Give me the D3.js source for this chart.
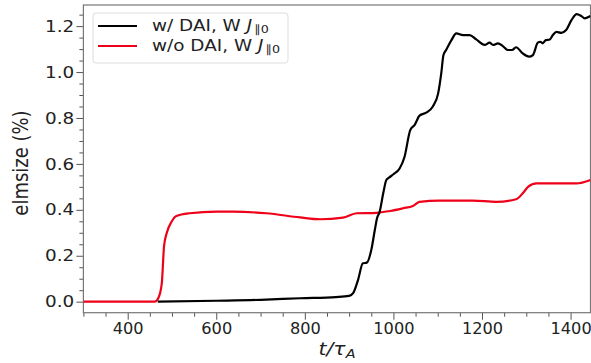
<!DOCTYPE html>
<html>
<head>
<meta charset="utf-8">
<script src="https://cdn.jsdelivr.net/npm/d3@7"></script>
<style>
  body { margin: 0; background: #fff; }
  text { font-family: "DejaVu Sans", sans-serif; fill: #222; }
</style>
</head>
<body>
<script>
// series
const blackT = [468, 600, 700, 790, 870, 900, 909, 920, 931, 940, 950, 958, 963, 969, 977, 984, 990, 1000, 1014, 1025, 1038, 1048, 1059, 1074, 1089, 1101, 1108, 1113, 1119, 1131, 1142, 1157, 1172, 1187, 1206, 1217, 1225, 1236, 1247, 1258, 1268, 1277, 1292, 1306, 1315, 1326, 1332, 1337, 1344, 1353, 1360, 1368, 1379, 1390, 1402, 1414, 1424, 1432, 1445];
const blackV = [0, 0.004, 0.008, 0.015, 0.02, 0.025, 0.037, 0.094, 0.167, 0.17, 0.225, 0.312, 0.363, 0.392, 0.472, 0.53, 0.54, 0.555, 0.58, 0.63, 0.747, 0.77, 0.81, 0.823, 0.85, 0.907, 0.994, 1.074, 1.096, 1.139, 1.168, 1.161, 1.161, 1.142, 1.118, 1.128, 1.118, 1.125, 1.113, 1.096, 1.096, 1.108, 1.081, 1.067, 1.074, 1.128, 1.132, 1.125, 1.139, 1.142, 1.161, 1.175, 1.171, 1.183, 1.226, 1.252, 1.244, 1.234, 1.244];

const redT = [300, 461, 469, 477, 482, 488, 499, 510, 540, 601, 638, 713, 789, 834, 886, 917, 962, 992, 1022, 1044, 1059, 1104, 1179, 1232, 1277, 1292, 1304, 1323, 1413, 1445];
const redV = [0, 0, 0.015, 0.08, 0.24, 0.298, 0.348, 0.373, 0.385, 0.392, 0.392, 0.385, 0.367, 0.359, 0.366, 0.385, 0.387, 0.395, 0.407, 0.417, 0.435, 0.44, 0.44, 0.435, 0.446, 0.472, 0.5, 0.515, 0.515, 0.53];

const xTicks = [400, 600, 800, 1000, 1200, 1400];
const yTicks = [0.0, 0.2, 0.4, 0.6, 0.8, 1.0, 1.2];
const seriesNames = ['w/ DAI, W ', 'w/o DAI, W '];
const seriesColors = ['#000000', '#ee0018'];

// the reference image is a bit wider than tall in its glyphs
const stretch = 1.15;

const svgWidth = 591;
const svgHeight = 363;
const margin = { left: 83.4, right: 0.5, top: 5, bottom: 50.3 };
const width = svgWidth - margin.left - margin.right;
const height = svgHeight - margin.top - margin.bottom;

const svg = d3.select('body').append('svg')
  .attr('width', svgWidth)
  .attr('height', svgHeight);

const g = svg.append('g')
  .attr('transform', `translate(${margin.left}, ${margin.top})`);

const x = d3.scaleLinear().domain([300, 1445]).range([0, width]);
const y = d3.scaleLinear().domain([-0.048, 1.292]).range([height, 0]);

g.append('clipPath').attr('id', 'clip')
  .append('rect').attr('width', width).attr('height', height);

// minor ticks
const xMinor = d3.range(300, 1450, 50).filter((v) => v % 200 !== 0);
const yMinor = d3.range(0, 1.3, 0.05).map((v) => +v.toFixed(2)).filter((v) => Math.round(v * 100) % 20 !== 0);

g.append('g').attr('transform', `translate(0, ${height})`)
  .call(d3.axisBottom(x).tickValues(xMinor).tickSize(4).tickFormat(''))
  .call((s) => s.select('.domain').remove());
g.append('g')
  .call(d3.axisLeft(y).tickValues(yMinor).tickSize(4).tickFormat(''))
  .call((s) => s.select('.domain').remove());

// major ticks
const xAxis = g.append('g').attr('transform', `translate(0, ${height})`)
  .call(d3.axisBottom(x).tickValues(xTicks).tickSize(7).tickPadding(4).tickFormat(d3.format('d')));
const yAxis = g.append('g')
  .call(d3.axisLeft(y).tickValues(yTicks).tickSize(7).tickPadding(1).tickFormat(d3.format('.1f')));

[xAxis, yAxis].forEach((a) => {
  a.select('.domain').remove();
  a.selectAll('text')
    .style('font-size', '16px')
    .attr('fill', '#222')
    .attr('transform', `scale(${stretch}, 1)`);
});
// the last x label sits right at the window edge, keep it inside
xAxis.selectAll('text').style('font-size', '15px').attr('transform', 'scale(1.08, 1)');
g.selectAll('.tick line').attr('stroke', '#555').attr('stroke-width', 1);

// frame
g.append('rect')
  .attr('width', width).attr('height', height)
  .attr('fill', 'none').attr('stroke', '#777').attr('stroke-width', 1.2);

const line = d3.line()
  .x((d) => x(d[0]))
  .y((d) => y(d[1]))
  .curve(d3.curveMonotoneX);

const series = [
  d3.zip(blackT, blackV),
  d3.zip(redT, redV)
];

const plot = g.append('g').attr('clip-path', 'url(#clip)');
plot.append('path').datum(series[1])
  .attr('d', line).attr('fill', 'none')
  .attr('stroke', seriesColors[1]).attr('stroke-width', 2.2);
plot.append('path').datum(series[0])
  .attr('d', line).attr('fill', 'none')
  .attr('stroke', seriesColors[0]).attr('stroke-width', 2.2);

// axis labels
svg.append('text')
  .attr('transform', `translate(22, 163) rotate(-90) scale(1, ${stretch})`)
  .attr('text-anchor', 'middle')
  .attr('dominant-baseline', 'middle')
  .style('font-size', '18px')
  .text('elmsize (%)');

const xl = svg.append('text')
  .attr('transform', `translate(337, 355) scale(1.2, 1)`)
  .attr('text-anchor', 'middle')
  .style('font-size', '17px');
xl.append('tspan').style('font-style', 'italic').text('t/τ');
xl.append('tspan').style('font-style', 'italic').style('font-size', '12px').attr('dy', 3).text('A');

// legend
const legend = svg.append('g').attr('transform', 'translate(93, 13)');
legend.append('rect')
  .attr('width', 195).attr('height', 50).attr('rx', 3)
  .attr('fill', '#fff').attr('stroke', '#ddd').attr('stroke-width', 1);

seriesNames.forEach((name, i) => {
  const ly = 13 + i * 20;
  legend.append('line')
    .attr('x1', 5).attr('x2', 44).attr('y1', ly).attr('y2', ly)
    .attr('stroke', seriesColors[i]).attr('stroke-width', 2);
  const t = legend.append('text')
    .attr('transform', `translate(59, ${ly}) scale(${stretch}, 1)`)
    .attr('dominant-baseline', 'middle')
    .style('font-size', '16px');
  t.append('tspan').text(name);
  t.append('tspan').style('font-style', 'italic').text('J');
  t.append('tspan').style('font-size', '11px').attr('dx', 2).attr('dy', 3).text('∥0');
});
</script>
</body>
</html>
